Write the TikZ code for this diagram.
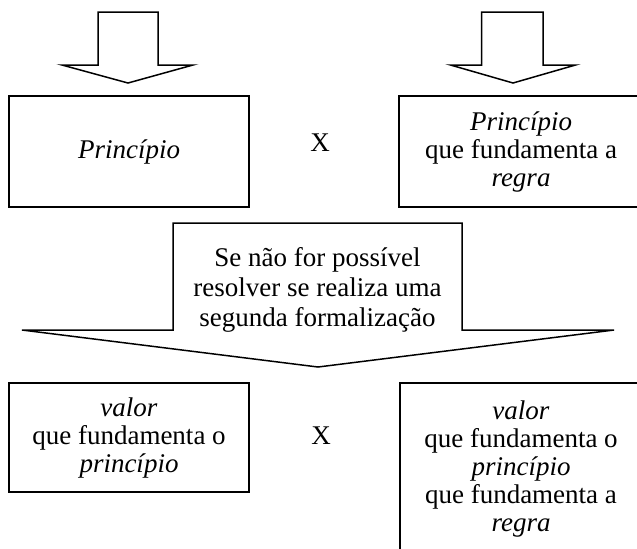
\documentclass[tikz,border=0pt]{standalone}
\usepackage{fontspec}
\setmainfont{Liberation Serif}
\usepackage{tikz}
\usetikzlibrary{calc,positioning}

\begin{document}
\begin{tikzpicture}[x=0.5pt,y=-0.5pt,line width=0.75pt,
  caixa/.style={draw,rectangle,align=center,inner sep=0pt,font=\fontsize{13.5}{14}\selectfont},
  rotulo/.style={font=\fontsize{13.5}{14}\selectfont}]
  \clip (0,0) rectangle (637,548);
  % Seta da esquerda
  \coordinate (S1) at (128,83);
  \draw ($(S1)+(-30,-71)$)--++(60,0)--++(0,53)--++(35,0)--(S1)--++(-66,-18)--++(36,0)--cycle;
  % Seta da direita
  \coordinate (S2) at (513,83);
  \draw ($(S2)+(-31.5,-71)$)--++(61.5,0)--++(0,53)--++(32.5,0)--(S2)--++(-62.5,-18)--++(31,0)--cycle;
  % Primeira formalizacao
  \node[caixa,minimum width=120pt,minimum height=55.5pt] (prin) at (129,151.5) {\textit{Princípio}};
  \node[rotulo] (x1) at (320,143) {X};
  \node[caixa,minimum width=122pt,minimum height=55.5pt] (prinregra) at (521,151.5)
    {\textit{Princípio}\\que fundamenta a\\\textit{regra}};
  % Seta grande com texto
  \coordinate (T) at (318,367);
  \draw (173,330)--(173,223)--(462,223)--(462,330)--(614,330)--(T)--(22,330)--cycle;
  \node[rotulo,align=center,font=\fontsize{13.5}{15}\selectfont] (segunda) at (317.5,290)
    {Se não for possível\\resolver se realiza uma\\segunda formalização};
  % Segunda formalizacao
  \node[caixa,minimum width=120pt,minimum height=54.5pt] (valor) at (129,437.5)
    {\textit{valor}\\que fundamenta o\\\textit{princípio}};
  \node[rotulo] (x2) at (321,436) {X};
  \node[caixa,minimum width=121pt,minimum height=86pt] (valorregra) at (521,469)
    {\textit{valor}\\que fundamenta o\\\textit{princípio}\\que fundamenta a\\\textit{regra}};
\end{tikzpicture}
\end{document}
